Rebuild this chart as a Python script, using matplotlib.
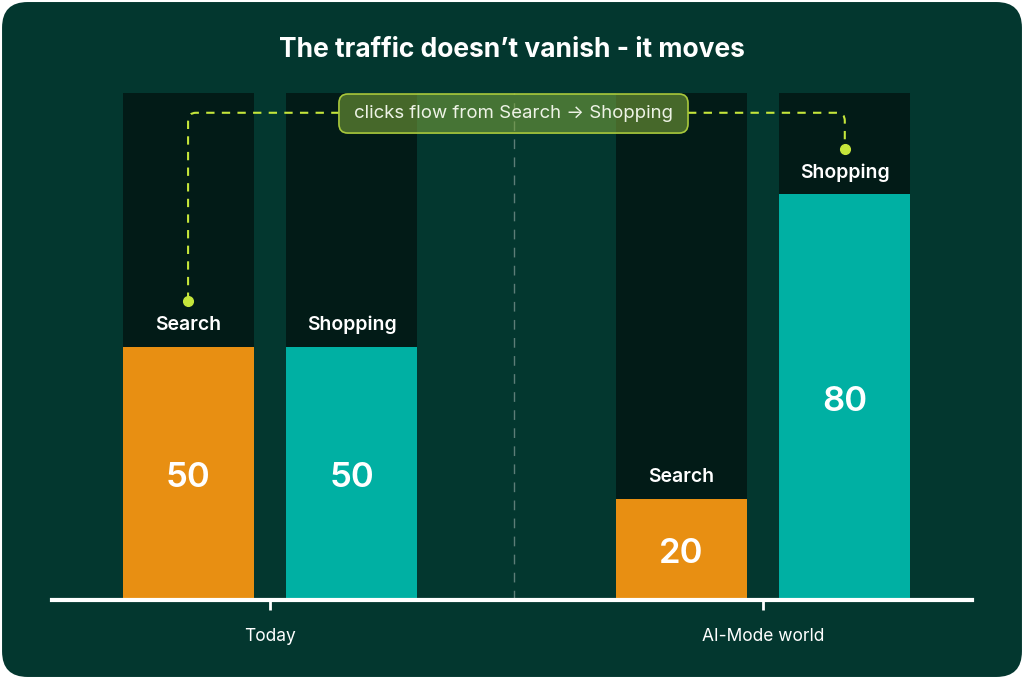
import matplotlib.pyplot as plt
from matplotlib.patches import FancyBboxPatch
from matplotlib.path import Path
from matplotlib.patches import PathPatch

plt.rcParams['font.family'] = ['Inter', 'DejaVu Sans']

# data
scenarios = ['Today', 'AI-Mode world']
channels = ['Search', 'Shopping']
search_vals = [50, 20]
shopping_vals = [50, 80]
total = 100

BG = '#03372f'
TRACK = '#021b17'
ORANGE = '#e88f12'
TEAL = '#00b0a3'
LIME = '#c5e63b'

fig = plt.figure(figsize=(10.24, 6.79), dpi=100)
fig.patch.set_facecolor('white')
# rounded card behind everything
card = FancyBboxPatch((0.002, 0.003), 0.996, 0.994, transform=fig.transFigure,
                      boxstyle='round,pad=0,rounding_size=0.025',
                      mutation_aspect=1024/679, facecolor=BG, edgecolor='none', zorder=-5)
fig.patches.append(card)

ax = fig.add_axes([52/1024, 79/679, 920/1024, 507/679])
ax.set_facecolor('none')
ax.set_zorder(1)

x = list(range(len(scenarios)))
off = 0.166
w = 0.266
xs = [i - off for i in x]
xp = [i + off for i in x]

# tracks
ax.bar(xs, [total]*2, width=w, color=TRACK, zorder=1)
ax.bar(xp, [total]*2, width=w, color=TRACK, zorder=1)
# values
ax.bar(xs, search_vals, width=w, color=ORANGE, zorder=2)
ax.bar(xp, shopping_vals, width=w, color=TEAL, zorder=2)

for xi, v in zip(xs, search_vals):
    ax.text(xi, v/2 - 1.0, str(v), ha='center', va='center', color='white', fontsize=25, fontweight='semibold', zorder=3)
    ax.text(xi, v + 4.2, 'Search', ha='center', va='center', color='white', fontsize=14, fontweight='semibold', zorder=3)
for xi, v in zip(xp, shopping_vals):
    ax.text(xi, v/2 - 1.0, str(v), ha='center', va='center', color='white', fontsize=25, fontweight='semibold', zorder=3)
    ax.text(xi, v + 4.2, 'Shopping', ha='center', va='center', color='white', fontsize=14, fontweight='semibold', zorder=3)

# divider
ax.axvline(0.495, color='#5d7d77', lw=1, ls=(0, (7, 6)), zorder=1.5)

# note box
bx0, bx1 = 0.140, 0.848
by0, by1 = 92.1, 99.8

# connector from Search (today) to Shopping (AI mode), broken by the box
y_line = 96.1
x0 = xs[0]
y0 = search_vals[0] + 9
x1 = xp[1]
y1 = shopping_vals[1] + 9
rx, ry = 0.016, 1.6
left = Path([(x0, y0), (x0, y_line - ry), (x0, y_line), (x0 + rx, y_line), (bx0, y_line)],
            [Path.MOVETO, Path.LINETO, Path.CURVE3, Path.CURVE3, Path.LINETO])
right = Path([(bx1, y_line), (x1 - rx, y_line), (x1, y_line), (x1, y_line - ry), (x1, y1)],
             [Path.MOVETO, Path.LINETO, Path.CURVE3, Path.CURVE3, Path.LINETO])
for p in [left, right]:
    ax.add_patch(PathPatch(p, fill=False, edgecolor=LIME, lw=1.5, ls=(0, (4, 3.5)), zorder=4))
ax.plot([x0, x1], [y0, y1], 'o', color=LIME, ms=7, zorder=5)

ax.add_patch(FancyBboxPatch((bx0, by0), bx1 - bx0, by1 - by0,
                            boxstyle='round,pad=0,rounding_size=0.018', mutation_aspect=100,
                            facecolor='#7fa83a', alpha=0.55, edgecolor='none', zorder=5))
ax.add_patch(FancyBboxPatch((bx0, by0), bx1 - bx0, by1 - by0,
                            boxstyle='round,pad=0,rounding_size=0.018', mutation_aspect=100,
                            facecolor='none', edgecolor='#a9c93c', lw=1.2, zorder=6))
ax.text((bx0 + bx1)/2, (by0 + by1)/2, 'clicks flow from Search \u2192 Shopping', ha='center', va='center',
        color='#eef3e6', fontsize=13.4, zorder=7)

ax.set_xlim(-0.442, 1.424)
ax.set_ylim(0, 100)
for s in ['top', 'right', 'left']:
    ax.spines[s].set_visible(False)
ax.spines['bottom'].set_color('white')
ax.spines['bottom'].set_linewidth(3)
ax.set_yticks([])
ax.set_xticks(x)
ax.set_xticklabels(scenarios)
ax.tick_params(axis='x', colors='white', length=7, width=2, pad=13, labelsize=12.5)

fig.text(0.5, 1 - 50/679, 'The traffic doesn\u2019t vanish - it moves', ha='center', va='center',
         color='white', fontsize=19, fontweight='bold')

fig.savefig('out.png', dpi=100, facecolor=fig.get_facecolor())
